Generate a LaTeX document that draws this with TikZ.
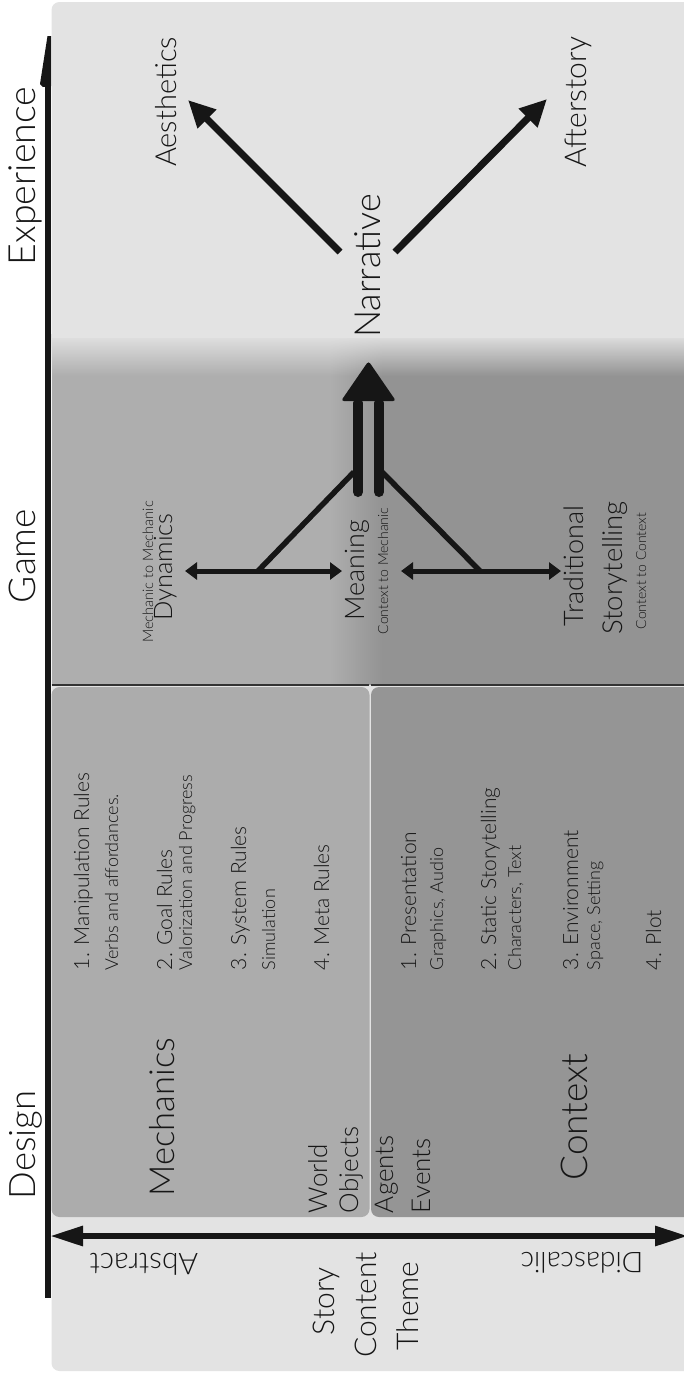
\documentclass[tikz,border=0pt]{standalone}
\usepackage{fontspec}
\setmainfont{Lato}[UprightFont=* Light]
\usetikzlibrary{arrows.meta,fadings}
\definecolor{bgc}{HTML}{E3E3E3}
\definecolor{mechc}{HTML}{ACACAC}
\definecolor{ctxc}{HTML}{959595}
\definecolor{gamel}{HTML}{AEAEAE}
\definecolor{gamer}{HTML}{939393}
\definecolor{ink}{HTML}{161616}
\definecolor{sepc}{HTML}{333333}
\tikzfading[name=fadedown, top color=transparent!0, bottom color=transparent!100]
\newcommand\fsz[1]{\fontsize{#1}{#1}\selectfont}
\begin{document}
\begin{tikzpicture}[x=1pt,y=-1pt,
  lbl/.style={inner sep=0pt, outer sep=0pt, text=ink, rotate=90, anchor=base},
  lst/.style={inner sep=0pt, outer sep=0pt, text=ink, rotate=90, anchor=base west},
  flip/.style={inner sep=0pt, outer sep=0pt, text=ink, rotate=180, anchor=base},
  thickarrow/.style={draw=ink, line width=7pt, -{Triangle[length=27pt,width=25pt]}},
  dblarrow/.style={draw=ink, line width=5pt, {Triangle[length=12pt,width=17pt]}-{Triangle[length=12pt,width=17pt]}},
  joint/.style={draw=ink, line width=5.5pt},
  twin/.style={draw=ink, line width=10pt, line cap=round}]
\path[use as bounding box] (0,0) rectangle (684,1373);
\clip (0,0) rectangle (684,1373);
\fill[white] (0,0) rectangle (684,1373);
% background panel
\fill[bgc, rounded corners=8] (51.5,2) rectangle (720,1371);
% game region
\fill[gamel] (51.5,338) rectangle (330,684);
\shade[left color=gamel, right color=gamer] (329.5,338) rectangle (382.5,684);
\fill[gamer] (382,338) rectangle (720,684);
\fill[bgc, path fading=fadedown] (51.5,334) rectangle (720,376);
% design boxes
\fill[mechc, rounded corners=8] (51.5,687) rectangle (369.5,1217);
\fill[ctxc, rounded corners=8] (371,687) rectangle (730,1217);
\draw[sepc, line width=1.3pt] (51.5,685) -- (369,685) (371,685) -- (684,685);
% axes
\fill[ink] (45,1298) rectangle (51,86);
\fill[ink] (51,86) -- (51,36) -- (47.5,36) -- (40,84) -- (43,87) -- cycle;
\coordinate (hl) at (50,1236);
\coordinate (hr) at (688,1236);
\draw[draw=ink, line width=6pt, {Triangle[length=33pt,width=19pt]}-{Triangle[length=33pt,width=19pt]}] (hl) -- (hr);
% axis labels
\node[lbl, font=\fsz{37.5}] (experience) at (35,176) {Experience};
\node[lbl, font=\fsz{37}] (game) at (35,556) {Game};
\node[lbl, font=\fsz{36.5}] (design) at (35,1145) {Design};
% experience level
\node[lbl, font=\fsz{29}] (aesthetics) at (176.5,102) {Aesthetics};
\node[lbl, font=\fsz{30}] (afterstory) at (586,102) {Afterstory};
\node[lbl, font=\fsz{36}] (narrative) at (380,266) {Narrative};
\coordinate (nl) at (340,252);
\coordinate (nr) at (395,252);
\coordinate (ta) at (188,100);
\coordinate (tb) at (547,99);
\draw[thickarrow] (nl) -- (ta);
\draw[thickarrow] (nr) -- (tb);
% game level
\node[lbl, font=\fsz{14.5}] (m2m) at (153,572) {Mechanic to Mechanic};
\node[lbl, font=\fsz{25.5}] (dynamics) at (172,567) {Dynamics};
\node[lbl, font=\fsz{27}] (meaning) at (364,570) {Meaning};
\node[lbl, font=\fsz{14}] (c2m) at (388,571) {Context to Mechanic};
\node[lbl, font=\fsz{27}] (traditional) at (583,566) {Traditional};
\node[lbl, font=\fsz{27.5}] (storytelling) at (622,568) {Storytelling};
\node[lbl, font=\fsz{14}] (c2c) at (646,571) {Context to Context};
\coordinate (da) at (185,571);
\coordinate (db) at (342,571);
\coordinate (dc) at (401,571);
\coordinate (dd) at (561,571);
\coordinate (ja) at (258,571);
\coordinate (jb) at (354,472);
\coordinate (jc) at (480,571);
\coordinate (jd) at (382,472);
\draw[joint] (ja) -- (jb);
\draw[joint] (jc) -- (jd);
\draw[dblarrow] (da) -- (db);
\draw[dblarrow] (dc) -- (dd);
\coordinate (t1a) at (358,492);
\coordinate (t1b) at (358,403);
\coordinate (t2a) at (379,492);
\coordinate (t2b) at (379,403);
\draw[twin] (t1a) -- (t1b);
\draw[twin] (t2a) -- (t2b);
\fill[ink, rounded corners=3pt] (341,401) -- (368.5,361) -- (396,401) -- cycle;
% design level lists
\node[lst, font=\fsz{21}] (mr1) at (89,970) {1. Manipulation Rules};
\node[lst, font=\fsz{18}] (mr1s) at (118,970) {Verbs and affordances.};
\node[lst, font=\fsz{21}] (mr2) at (172,970) {2. Goal Rules};
\node[lst, font=\fsz{18}] (mr2s) at (192,970) {Valorization and Progress};
\node[lst, font=\fsz{21}] (mr3) at (246,970) {3. System Rules};
\node[lst, font=\fsz{18}] (mr3s) at (275,970) {Simulation};
\node[lst, font=\fsz{21}] (mr4) at (329,970) {4. Meta Rules};
\node[lst, font=\fsz{21}] (cx1) at (416,970) {1. Presentation};
\node[lst, font=\fsz{18}] (cx1s) at (443,970) {Graphics, Audio};
\node[lst, font=\fsz{21}] (cx2) at (496,970) {2. Static Storytelling};
\node[lst, font=\fsz{18}] (cx2s) at (521,970) {Characters, Text};
\node[lst, font=\fsz{21}] (cx3) at (578,970) {3. Environment};
\node[lst, font=\fsz{18}] (cx3s) at (600,970) {Space, Setting};
\node[lst, font=\fsz{21}] (cx4) at (661,970) {4. Plot};
\node[lbl, font=\fsz{34.5}] (mechanics) at (174.5,1117) {Mechanics};
\node[lbl, font=\fsz{37}] (context) at (587,1117) {Context};
\node[lst, font=\fsz{26}] (world) at (327,1213) {World};
\node[lst, font=\fsz{26}] (objects) at (358,1213) {Objects};
\node[lst, font=\fsz{26}] (agents) at (393,1213) {Agents};
\node[lst, font=\fsz{26}] (events) at (430,1213) {Events};
% bottom labels
\node[flip, font=\fsz{30}] (abstract) at (144,1253) {Abstract};
\node[flip, font=\fsz{28.5}] (didascalic) at (582,1252) {Didascalic};
\node[lbl, font=\fsz{30}] (story) at (334,1301) {Story};
\node[lbl, font=\fsz{30}] (content) at (376,1305) {Content};
\node[lbl, font=\fsz{30}] (theme) at (418,1306) {Theme};
\end{tikzpicture}
\end{document}
